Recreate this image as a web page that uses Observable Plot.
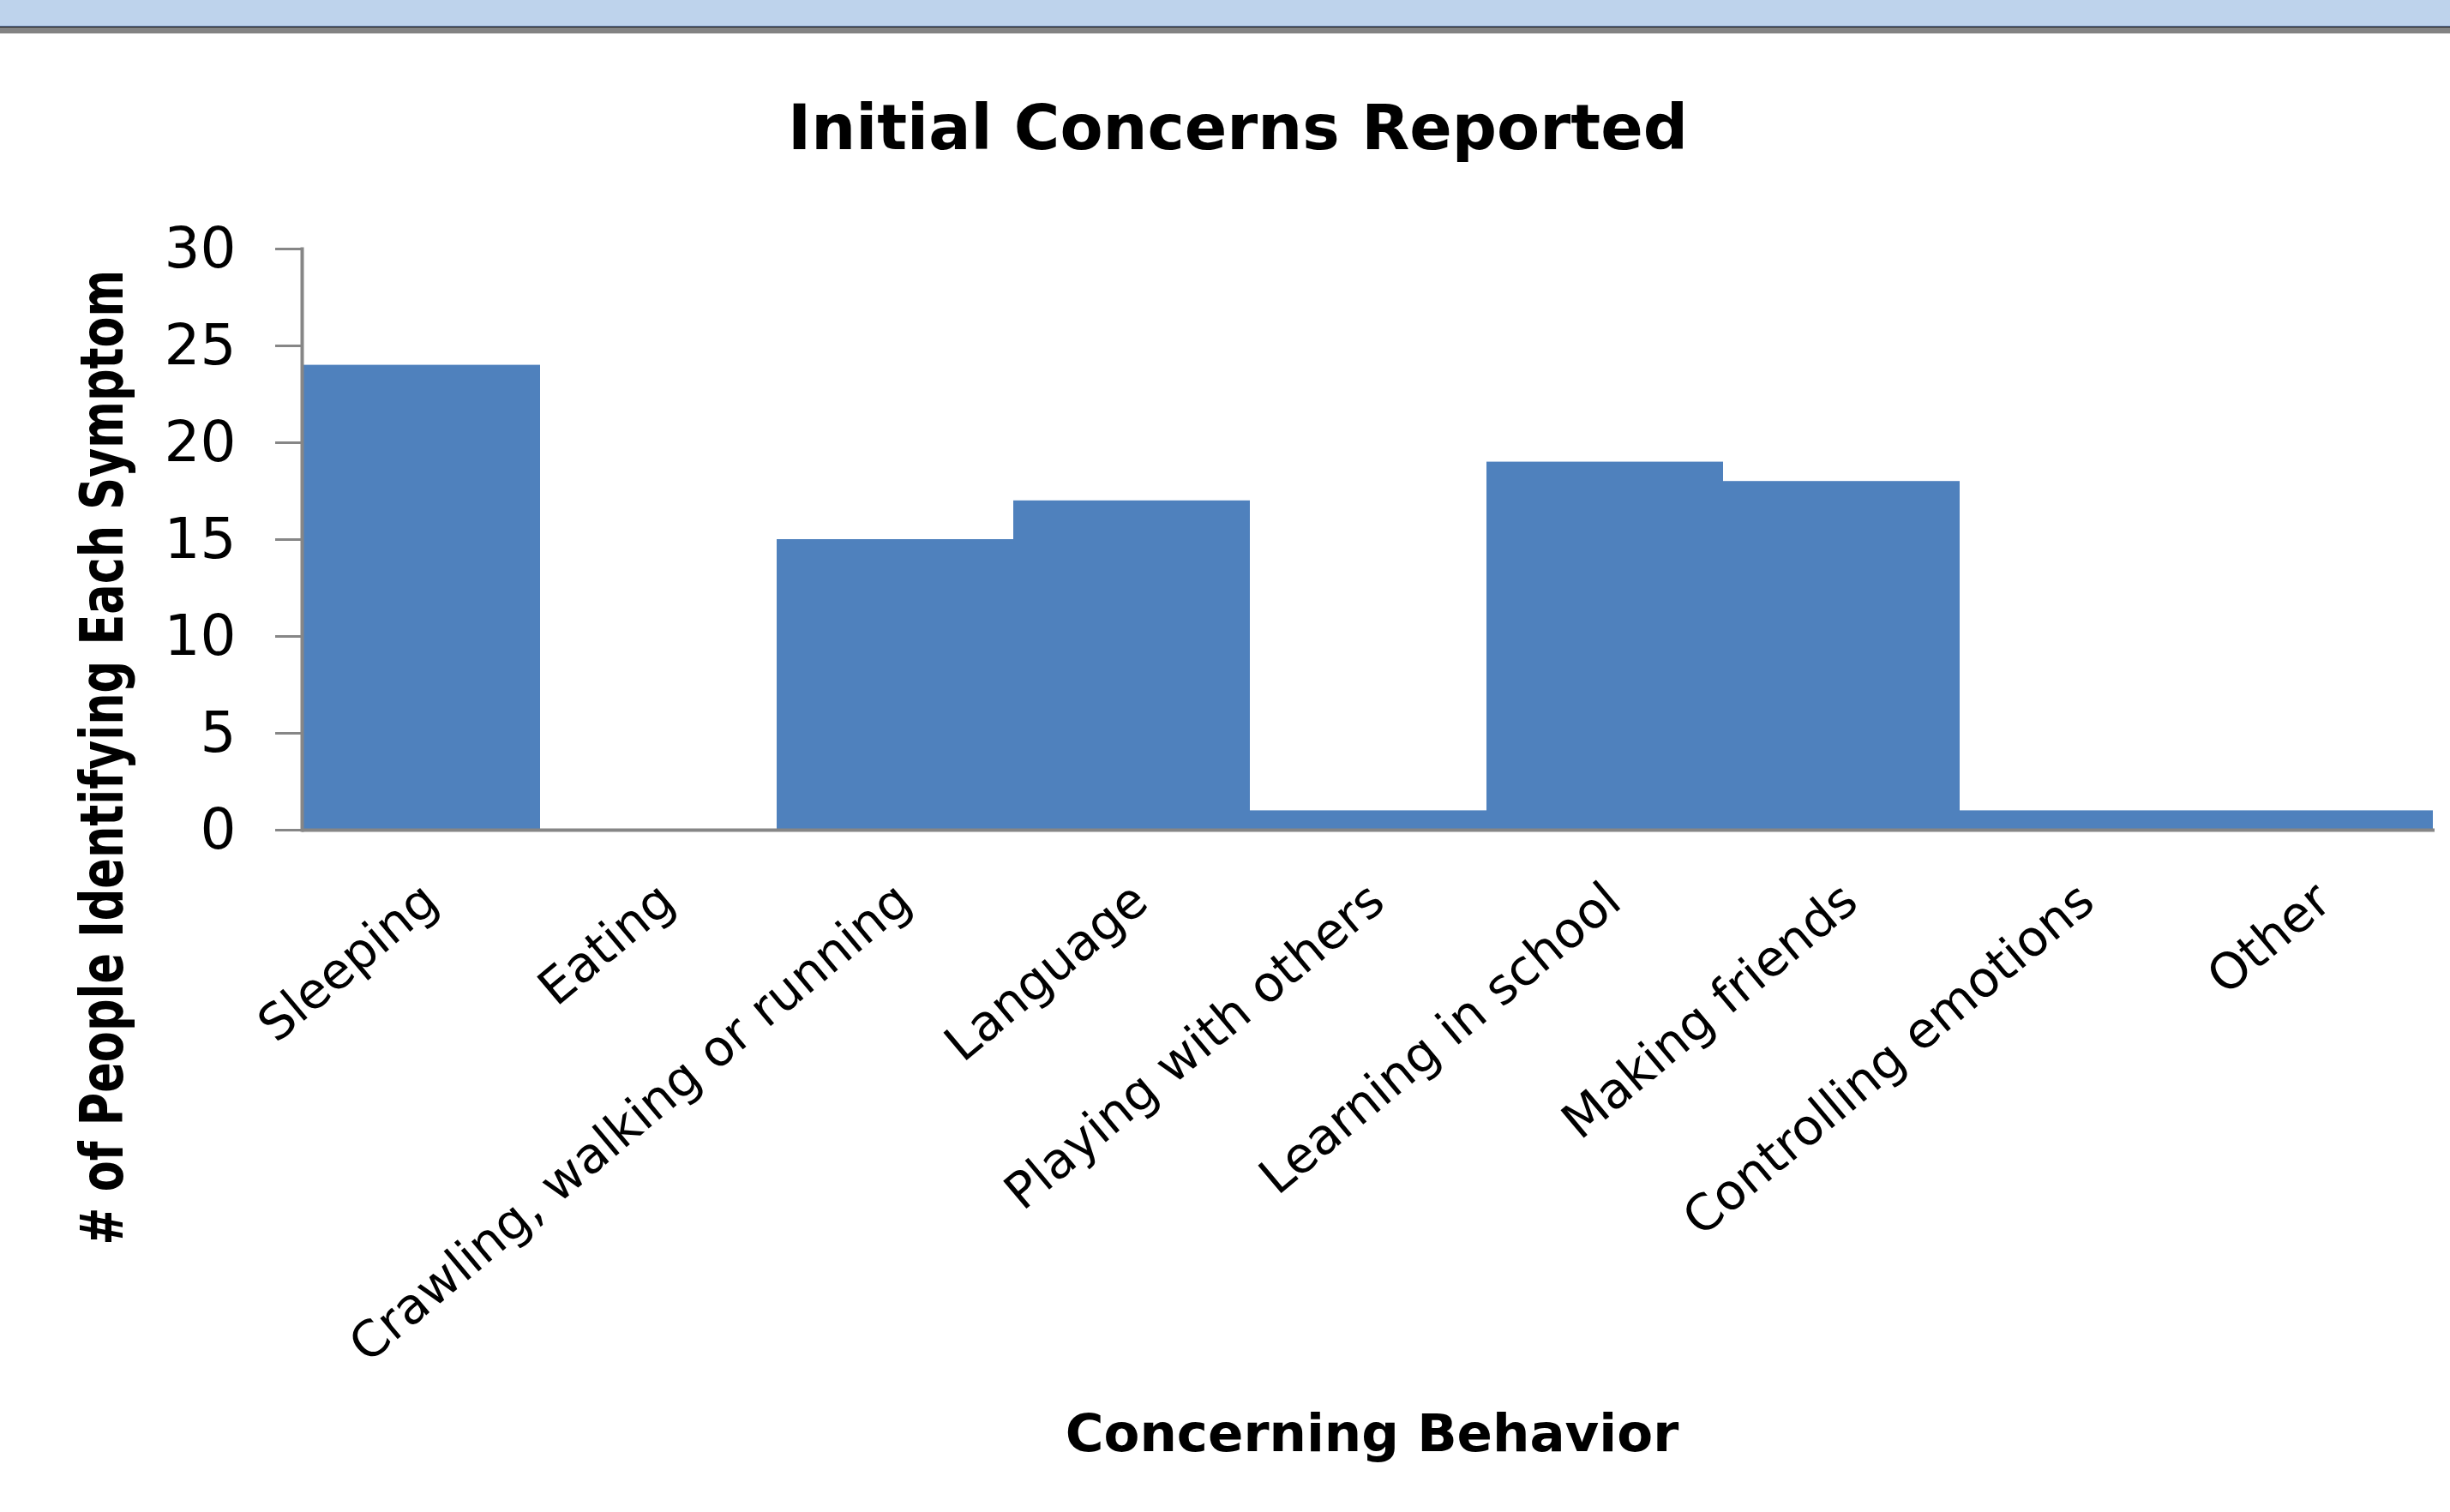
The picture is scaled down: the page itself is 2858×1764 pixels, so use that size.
<!DOCTYPE html>
<html>
<head>
<meta charset="utf-8">
<script src="https://cdn.jsdelivr.net/npm/d3@7"></script>
<script src="https://cdn.jsdelivr.net/npm/@observablehq/plot@0.6"></script>
<style>
  html, body { margin: 0; padding: 0; background: #fff; }
  #page { position: relative; width: 2858px; height: 1764px; overflow: hidden; background: #fff; }
  .strip { position: absolute; left: 0; width: 2858px; }
  #band { top: 0; height: 30px; background: #BED3EC; }
  #edge1 { top: 30px; height: 1px; background: #7B93BE; }
  #edge2 { top: 31px; height: 1px; background: #0D0D0D; }
  #edge3 { top: 32px; height: 7px; background: #838383; }
  #title { position: absolute; top: 112px; left: 1444px; transform: translateX(-50%);
           font: bold 73px "DejaVu Sans", sans-serif; line-height: 1; white-space: nowrap; color: #000; }
  #chart { position: absolute; left: 0; top: 200px; }
</style>
</head>
<body>
<div id="page">
  <div class="strip" id="band"></div>
  <div class="strip" id="edge1"></div>
  <div class="strip" id="edge2"></div>
  <div class="strip" id="edge3"></div>
  <div id="title"></div>
  <div id="chart"></div>
</div>
<script>
// ---- data ----
const chartTitle = "Initial Concerns Reported";
const xTitle = "Concerning Behavior";
const yTitle = "# of People Identifying Each Symptom";
const categories = [
  "Sleeping",
  "Eating",
  "Crawling, walking or running",
  "Language",
  "Playing with others",
  "Learning in school",
  "Making friends",
  "Controlling emotions",
  "Other"
];
const counts = [24, 0, 15, 17, 1, 19, 18, 1, 1];
const yTicks = [0, 5, 10, 15, 20, 25, 30];
const yDomain = [0, 30];

const data = categories.map((c, i) => ({category: c, value: counts[i]}));

document.getElementById("title").textContent = chartTitle;

const axisGray = "#868686";
const barBlue = "#4F81BD";

const chart = Plot.plot({
  width: 2858,
  height: 1564,
  marginTop: 90,
  marginBottom: 796,
  marginLeft: 352,
  marginRight: 18,
  style: {background: "#fff", overflow: "visible"},
  x: {domain: categories, padding: 0, round: true},
  y: {domain: yDomain},
  marks: [
    Plot.barY(data, {x: "category", y: "value", fill: barBlue}),
    Plot.ruleY([0], {stroke: axisGray, strokeWidth: 4}),
    Plot.frame({anchor: "left", stroke: axisGray, strokeWidth: 4}),
    Plot.axisY({
      ticks: yTicks, tickSize: 31, tickPadding: 46,
      stroke: axisGray, strokeWidth: 3,
      fill: "#000", fontSize: 66, fontFamily: "DejaVu Sans",
      label: null
    }),
    Plot.axisX({
      tickSize: 0, tickRotate: -40, tickPadding: 74, dx: 10,
      fill: "#000", fontSize: 58, fontFamily: "DejaVu Sans",
      label: null
    }),
    Plot.text([yTitle], {
      text: d => d, frameAnchor: "left", rotate: -90, textAnchor: "start",
      dx: -232, dy: 823,
      fontSize: 70, fontWeight: "bold", fontFamily: "DejaVu Sans", fill: "#000"
    }),
    Plot.text([xTitle], {
      text: d => d, frameAnchor: "bottom", lineAnchor: "bottom",
      dx: 4, dy: 724,
      fontSize: 61, fontWeight: "bold", fontFamily: "DejaVu Sans", fill: "#000"
    })
  ]
});

document.getElementById("chart").appendChild(chart);

// condense the rotated y title (narrow glyphs) to its measured length
const yt = Array.from(chart.querySelectorAll("text")).find(t => t.textContent === yTitle);
if (yt) {
  const natural = yt.getComputedTextLength();
  if (natural > 0) {
    const f = 1138 / natural;
    const tr = yt.getAttribute("transform") || "";
    yt.setAttribute("transform", `${tr} scale(${f},1)`);
  }
}
</script>
</body>
</html>
